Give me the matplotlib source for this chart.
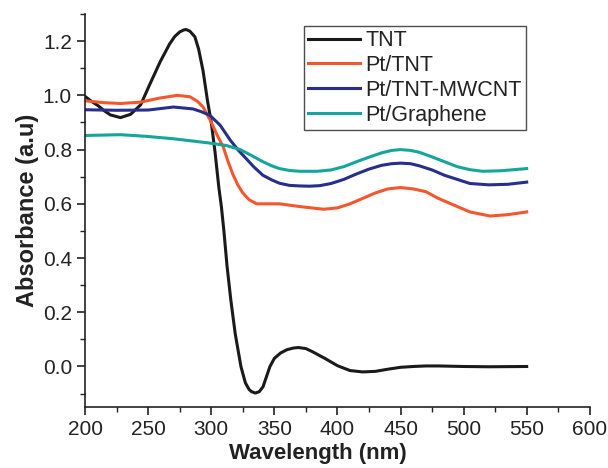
import numpy as np
import matplotlib
matplotlib.use("Agg")
import matplotlib.pyplot as plt
from matplotlib.ticker import MultipleLocator

plt.rcParams['font.family'] = ['Liberation Sans', 'DejaVu Sans']

# values
tnt_x = [200, 205, 210, 215, 220, 228, 236, 244, 251.5, 259.5, 267, 271, 275,
         278, 280, 283, 287, 290, 293.5, 297, 300, 303, 306, 308, 310, 312.5,
         315.5, 319, 323.5, 327, 330, 332, 335, 338, 341, 346.5, 350, 355,
         360, 365, 369, 375, 380, 390, 400, 410, 420, 430, 440, 450, 460,
         470, 480, 500, 520, 550]
tnt_y = [0.996, 0.978, 0.963, 0.944, 0.928, 0.918, 0.93, 0.965, 1.043, 1.124,
         1.19, 1.217, 1.234, 1.241, 1.243, 1.237, 1.216, 1.17, 1.09, 0.98,
         0.90, 0.79, 0.66, 0.59, 0.50, 0.37, 0.245, 0.12, 0.0, -0.06, -0.085,
         -0.093, -0.098, -0.093, -0.075, 0.0, 0.03, 0.05, 0.062, 0.068, 0.07,
         0.066, 0.055, 0.03, 0.003, -0.015, -0.02, -0.018, -0.01, -0.003, 0.0,
         0.002, 0.002, 0.0, -0.001, 0.0]

pt_x = [200, 215, 228, 244, 259, 273, 283, 289, 293.5, 299, 305, 309.5, 313,
        317, 321, 325, 330, 336, 345, 354, 370, 389, 400, 410, 420, 430, 440,
        450, 460, 470, 480, 490, 505, 521, 535, 550]
pt_y = [0.98, 0.973, 0.97, 0.975, 0.99, 1.0, 0.995, 0.978, 0.957, 0.91, 0.85,
        0.81, 0.76, 0.71, 0.67, 0.64, 0.615, 0.60, 0.60, 0.60, 0.59, 0.58,
        0.585, 0.60, 0.62, 0.64, 0.655, 0.66, 0.655, 0.645, 0.62, 0.60, 0.57,
        0.555, 0.56, 0.57]

mw_x = [200, 225, 250, 270, 285.5, 292, 299, 307, 315, 321, 328, 334, 341, 348,
        354, 362, 370, 378, 386, 395, 405, 415, 425, 435, 443, 450, 458, 465,
        475, 485, 495, 505, 520, 535, 550]
mw_y = [0.947, 0.945, 0.946, 0.957, 0.95, 0.94, 0.926, 0.89, 0.835, 0.80, 0.765,
        0.735, 0.705, 0.688, 0.676, 0.668, 0.666, 0.665, 0.667, 0.675, 0.69,
        0.71, 0.728, 0.742, 0.748, 0.75, 0.748, 0.74, 0.725, 0.705, 0.69,
        0.675, 0.67, 0.672, 0.68]

gr_x = [200, 228, 248, 270, 299, 312, 323, 332, 341, 348, 354, 362, 370, 384,
        395, 405, 415, 425, 435, 443, 450, 458, 465, 475, 485, 495, 505, 515,
        530, 550]
gr_y = [0.852, 0.855, 0.849, 0.84, 0.824, 0.815, 0.80, 0.778, 0.755, 0.74, 0.73,
        0.723, 0.72, 0.72, 0.725, 0.737, 0.755, 0.772, 0.788, 0.797, 0.80,
        0.797, 0.79, 0.773, 0.755, 0.737, 0.726, 0.72, 0.722, 0.73]

names = ['TNT', 'Pt/TNT', 'Pt/TNT-MWCNT', 'Pt/Graphene']
colors = ['#1a1a1a', '#f4572d', '#262e8e', '#14a59b']

fig = plt.figure(figsize=(6.08, 4.68), dpi=100)
ax = fig.add_axes([0.14, 0.13, 0.83, 0.84])

for xs, ys, name, c in zip([tnt_x, pt_x, mw_x, gr_x], [tnt_y, pt_y, mw_y, gr_y],
                           names, colors):
    ax.plot(xs, ys, color=c, lw=2.2, label=name)

ax.set_xlim(200, 600)
ax.set_ylim(-0.15, 1.3)
ax.xaxis.set_major_locator(MultipleLocator(50))
ax.xaxis.set_minor_locator(MultipleLocator(25))
ax.yaxis.set_major_locator(MultipleLocator(0.2))
ax.yaxis.set_minor_locator(MultipleLocator(0.1))
ax.yaxis.set_major_formatter(plt.FormatStrFormatter('%.1f'))

ax.spines['top'].set_visible(False)
ax.spines['right'].set_visible(False)
for s in ['left', 'bottom']:
    ax.spines[s].set_linewidth(1.2)
    ax.spines[s].set_color('#222222')
ax.tick_params(which='major', direction='out', length=5.5, width=1.2, pad=4,
               labelsize=15, colors='#222222')
ax.tick_params(which='minor', direction='out', length=3.5, width=1.0,
               colors='#222222')

ax.set_xlabel('Wavelength (nm)', fontsize=16, fontweight='bold',
              color='#222222')
ax.xaxis.set_label_coords(0.462, -0.09)
ax.set_ylabel('Absorbance (a.u)', fontsize=17, fontweight='bold', labelpad=3,
              color='#222222')

leg = ax.legend(loc='upper left', bbox_to_anchor=(0.434, 0.97), fontsize=15.5,
                frameon=True, fancybox=False, handlelength=2.4,
                handletextpad=0.25, labelspacing=0.18, borderpad=0.2,
                borderaxespad=0)
leg.get_frame().set_edgecolor('#222222')
leg.get_frame().set_linewidth(1.0)
for t in leg.get_texts():
    t.set_color('#222222')

plt.savefig('out.png', dpi=100)
